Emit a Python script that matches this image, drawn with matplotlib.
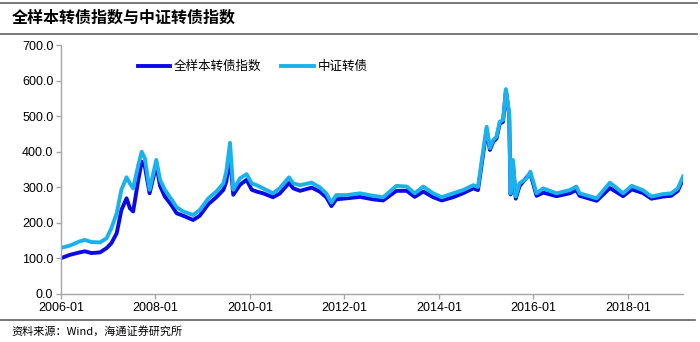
import matplotlib
matplotlib.use("Agg")
import matplotlib.pyplot as plt
import matplotlib.dates as mdates
import pandas as pd

plt.rcParams['font.family'] = ['Liberation Sans', 'Noto Sans CJK SC', 'DejaVu Sans']

title = "全样本转债指数与中证转债指数"
source = "资料来源：Wind，海通证券研究所"
label_all = "全样本转债指数"
label_zz = "中证转债"

dates = [
    "2006-01-04", "2006-03-10", "2006-05-26", "2006-07-05", "2006-08-25", "2006-10-30", "2006-12-20",
    "2007-01-26", "2007-03-08", "2007-04-13", "2007-05-23", "2007-06-18", "2007-07-13", "2007-08-22",
    "2007-09-17", "2007-10-12", "2007-11-17", "2008-01-08", "2008-02-06", "2008-03-14", "2008-05-04",
    "2008-06-13", "2008-08-03", "2008-10-19", "2008-12-09", "2009-02-14", "2009-04-16", "2009-06-10",
    "2009-07-02", "2009-07-31", "2009-08-25", "2009-10-16", "2009-12-06", "2010-01-15", "2010-02-21",
    "2010-04-13", "2010-06-28", "2010-08-18", "2010-10-30", "2010-12-02", "2011-01-23", "2011-04-23",
    "2011-06-24", "2011-08-14", "2011-09-23", "2011-10-30", "2012-01-19", "2012-05-01", "2012-08-11",
    "2012-10-27", "2013-02-06", "2013-04-28", "2013-06-28", "2013-09-02", "2013-11-18", "2014-01-23",
    "2014-04-20", "2014-07-05", "2014-09-24", "2014-10-30", "2014-11-25", "2015-01-05", "2015-01-30",
    "2015-02-25", "2015-03-22", "2015-04-16", "2015-05-12", "2015-06-03", "2015-06-28", "2015-07-09",
    "2015-07-27", "2015-08-18", "2015-09-16", "2015-11-10", "2015-12-09", "2016-01-26", "2016-03-17",
    "2016-06-28", "2016-10-08", "2016-11-28", "2016-12-24", "2017-05-05", "2017-08-15", "2017-11-25",
    "2018-01-30", "2018-04-27", "2018-07-02", "2018-10-01", "2018-12-02", "2019-01-22", "2019-03-03",
]

# 中证转债
zz_index = [
    130, 136, 148, 152, 146, 145, 157,
    185, 227, 293, 328, 311, 297, 363,
    400, 381, 293, 377, 321, 293, 266,
    244, 232, 222, 236, 269, 288, 311,
    344, 425, 293, 325, 337, 311, 306,
    297, 283, 297, 328, 311, 306, 313,
    300, 283, 257, 278, 278, 283, 276,
    272, 304, 302, 283, 302, 283, 272,
    283, 292, 306, 301, 367, 470, 410,
    433, 442, 484, 489, 576, 508, 283,
    377, 274, 311, 325, 344, 283, 297,
    283, 292, 302, 283, 269, 313, 283,
    304, 292, 274, 281, 283, 297, 330,
]

# 全样本转债指数
all_index = [
    101, 110, 117, 120, 115, 117, 129,
    143, 171, 236, 269, 241, 232, 321,
    372, 358, 283, 363, 304, 274, 250,
    227, 220, 208, 220, 253, 272, 293,
    316, 385, 279, 307, 321, 293, 288,
    283, 272, 282, 312, 297, 290, 299,
    288, 272, 247, 266, 269, 273, 266,
    263, 290, 290, 273, 288, 272, 263,
    272, 283, 297, 292, 358, 462, 405,
    428, 437, 479, 484, 572, 503, 280,
    370, 268, 303, 328, 338, 276, 285,
    275, 283, 292, 276, 262, 298, 275,
    294, 284, 268, 274, 276, 290, 322,
]

x = pd.to_datetime(dates)

fig = plt.figure(figsize=(7.0, 3.42), dpi=100)
ax = fig.add_axes([0.0871, 0.1404, 0.8886, 0.728])

ax.plot(x, all_index, color="#0a0ae6", lw=2.8, label=label_all, solid_joinstyle="round")
ax.plot(x, zz_index, color="#1ab2ee", lw=2.8, label=label_zz, solid_joinstyle="round")

ax.set_ylim(0, 700)
ax.set_yticks(range(0, 701, 100))
ax.yaxis.set_major_formatter(matplotlib.ticker.FormatStrFormatter('%.1f'))
ax.set_xlim(pd.Timestamp("2006-01-01"), pd.Timestamp("2019-03-03"))
ax.set_xticks(pd.to_datetime(["2006-01-01", "2008-01-01", "2010-01-01", "2012-01-01",
                              "2014-01-01", "2016-01-01", "2018-01-01"]))
ax.xaxis.set_major_formatter(mdates.DateFormatter('%Y-%m'))

for side in ["top", "right"]:
    ax.spines[side].set_visible(False)
for side in ["left", "bottom"]:
    ax.spines[side].set_color("#a6a6a6")
    ax.spines[side].set_linewidth(1.0)
ax.tick_params(axis="both", colors="#a6a6a6", labelcolor="black", labelsize=9, length=3.5, width=1.0)
ax.tick_params(axis="y", pad=2)
ax.tick_params(axis="x", pad=2)

leg = ax.legend(loc="upper left", bbox_to_anchor=(0.105, 0.985), ncol=2, frameon=False,
                prop={"family": "Noto Sans CJK SC", "size": 9}, handlelength=2.6,
                handletextpad=0.3, columnspacing=1.6)

# title bar and source line
fig.text(0.017, 0.948, title, fontsize=11.5, fontweight="bold", family="Noto Sans CJK SC",
         va="center", ha="left")
fig.add_artist(plt.Line2D([0, 0.995], [0.991, 0.991], color="#606060", lw=1.2))
fig.add_artist(plt.Line2D([0, 0.995], [0.902, 0.902], color="#606060", lw=1.2))
fig.add_artist(plt.Line2D([0, 0.993], [0.064, 0.064], color="#606060", lw=1.2))
fig.text(0.017, 0.030, source, fontsize=8, family=["Noto Sans CJK SC", "DejaVu Sans"],
         va="center", ha="left")

fig.savefig("out.png", dpi=100)
